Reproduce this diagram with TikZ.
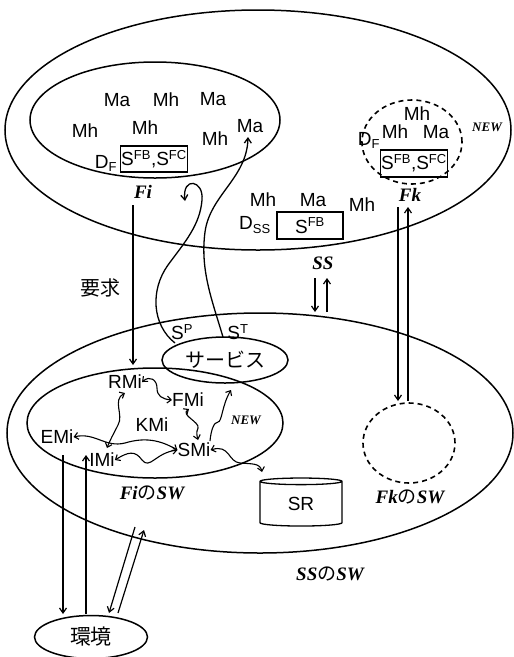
\documentclass[tikz,border=0pt]{standalone}
\usepackage{fontspec}
\setmainfont{Liberation Sans}
\newfontfamily\lserif{Liberation Serif}
\newfontfamily\jp{Noto Sans CJK JP}
\usetikzlibrary{arrows.meta,shapes.geometric}
\tikzset{
  x=1pt,y=-1pt,
  oval/.style={draw,ellipse,line width=1.5pt,inner sep=0pt},
  dashoval/.style={draw,ellipse,line width=1.6pt,dash pattern=on 5pt off 4pt,inner sep=0pt},
  lbl/.style={font=\fontsize{19}{19}\selectfont,inner sep=0pt},
  bi/.style={font=\lserif\bfseries\itshape\fontsize{19}{19}\selectfont,inner sep=0pt},
  newlbl/.style={font=\lserif\bfseries\itshape\fontsize{13}{13}\selectfont,inner sep=0pt},
  jplbl/.style={font=\jp\fontsize{20}{20}\selectfont,inner sep=0pt},
  sbox/.style={draw,line width=1.3pt,inner sep=0pt,font=\fontsize{19}{19}\selectfont},
  arr/.style={line width=1.2pt,-{Straight Barb[length=5pt,width=7pt]}},
  wavy/.style={line width=1.1pt,{Straight Barb[length=4pt,width=7pt]}-{Straight Barb[length=4pt,width=7pt]}},
  wavyone/.style={line width=1.1pt,-{Straight Barb[length=4pt,width=7pt]}},
}
\newcommand{\Sup}[1]{S\textsuperscript{\fontsize{13}{13}\selectfont #1}}
\newcommand{\Dsub}[1]{D\textsubscript{\fontsize{13}{13}\selectfont #1}}
\begin{document}
\begin{tikzpicture}
\useasboundingbox (0,0) rectangle (514,657);
% big ellipses
\node[oval,minimum width=506,minimum height=240] (SSe) at (258,130) {};
\node[oval,minimum width=506,minimum height=240] (SSW) at (260,433) {};
% Fi ellipse
\node[oval,minimum width=250,minimum height=116] (Fie) at (155,120) {};
\node[lbl] (ma1) at (117,100) {Ma};
\node[lbl] (mh1) at (166,100) {Mh};
\node[lbl] (ma2) at (213,99) {Ma};
\node[lbl] (mh2) at (85,131) {Mh};
\node[lbl] (mh3) at (145,128) {Mh};
\node[lbl] (mh4) at (215,139) {Mh};
\node[lbl] (ma3) at (250,126) {Ma};
\node[lbl] (df1) at (106,163) {\Dsub{F}};
\node[sbox,minimum width=67,minimum height=26] (sb1) at (154,159) {\Sup{FB},\Sup{FC}};
\node[bi] (Fi) at (143,192) {Fi};
% SS contents
\node[lbl] (mh5) at (263,200) {Mh};
\node[lbl] (ma4) at (313,200) {Ma};
\node[lbl] (mh6) at (362,205) {Mh};
\node[lbl] (dss) at (255,225) {\Dsub{SS}};
\node[sbox,minimum width=66,minimum height=27] (sb2) at (310,225.5) {\Sup{FB}};
\node[bi] (SS) at (323,263) {SS};
% Fk
\node[dashoval,minimum width=100,minimum height=84] (Fke) at (412,142) {};
\node[lbl] (mh7) at (417,114) {Mh};
\node[lbl] (mh8) at (395,132) {Mh};
\node[lbl] (ma5) at (436,132) {Ma};
\node[lbl] (df2) at (369,140) {\Dsub{F}};
\node[sbox,minimum width=67,minimum height=27] (sb3) at (414,163.5) {\Sup{FB},\Sup{FC}};
\node[newlbl] (new1) at (487,127) {NEW};
\node[bi] (Fk) at (410,195) {Fk};
% service
\node[oval,minimum width=126,minimum height=46,font=\jp\fontsize{20}{20}\selectfont] (serv) at (225,360) {サービス};
\node[lbl] (sp) at (182,332) {\Sup{P}};
\node[lbl] (st) at (238,332) {\Sup{T}};
% Fi SW
\node[oval,minimum width=256,minimum height=110] (FiSW) at (155,423) {};
\node[lbl] (RMi) at (125,382) {RMi};
\node[lbl] (FMi) at (188,400) {FMi};
\node[lbl] (KMi) at (152,425) {KMi};
\node[lbl] (EMi) at (57,437) {EMi};
\node[lbl] (IMi) at (102,460) {IMi};
\node[lbl] (SMi) at (194,450) {SMi};
\node[newlbl] (new2) at (246,420) {NEW};
\node[bi] (FiSWl) at (152,493) {Fi{\jp\mdseries\upshape の}SW};
% SR cylinder
\node[cylinder,shape border rotate=90,draw,line width=1.3pt,minimum width=82,minimum height=48,aspect=0.25,lbl] (SR) at (301,504) {SR};
% Fk SW
\node[dashoval,minimum width=92,minimum height=80] (FkSW) at (409,443) {};
\node[bi] (FkSWl) at (410,497) {Fk{\jp\mdseries\upshape の}SW};
\node[bi] (SSWl) at (330,574) {SS{\jp\mdseries\upshape の}SW};
% environment
\node[oval,minimum width=113,minimum height=43,font=\jp\fontsize{21}{21}\selectfont] (env) at (91,637) {環境};
\node[jplbl] (req) at (100,288) {要求};
% coordinates
\coordinate (a1) at (133,205); \coordinate (a2) at (133,365);
\coordinate (k1) at (398,207); \coordinate (k2) at (398,401);
\coordinate (k3) at (408,401); \coordinate (k4) at (408,207);
\coordinate (s1) at (315,278); \coordinate (s2) at (315,312);
\coordinate (s3) at (327,312); \coordinate (s4) at (327,278);
\coordinate (e1) at (63,455); \coordinate (e2) at (63,614);
\coordinate (i1) at (86,614); \coordinate (i2) at (86,455);
\coordinate (d1) at (135,527); \coordinate (d2) at (109,613);
\coordinate (d3) at (118,613); \coordinate (d4) at (144,530);
% straight arrows
\draw[arr] (a1) -- (a2);
\draw[arr] (k1) -- (k2);
\draw[arr] (k3) -- (k4);
\draw[arr] (s1) -- (s2);
\draw[arr] (s3) -- (s4);
\draw[arr] (e1) -- (e2);
\draw[arr] (i1) -- (i2);
\draw[arr] (d1) -- (d2);
\draw[arr] (d3) -- (d4);
% S^P and S^T curves
\coordinate (p0) at (175,343); \coordinate (p1) at (168,265); \coordinate (p2) at (202,200); \coordinate (p3) at (185,201);
\draw[arr,line width=1.3pt] (p0) .. controls (152,325) and (150,290) .. (p1) .. controls (185,242) and (200,225) .. (p2) .. controls (204,180) and (182,176) .. (p3);
\coordinate (t0) at (223,337); \coordinate (t1) at (205,232); \coordinate (t2) at (248,137);
\draw[arr,line width=1.3pt] (t0) .. controls (212,300) and (200,270) .. (t1) .. controls (210,195) and (247,178) .. (t2);
% wavy arrows
\draw[wavy] (RMi.east) .. controls (150,375) and (157,380) .. (157,388) .. controls (157,396) and (162,399) .. (FMi.west);
\draw[wavy] (125,393) .. controls (112,400) and (124,415) .. (118,425) .. controls (113,435) and (110,440) .. (107,448);
\draw[wavy] (EMi.east) .. controls (95,432) and (105,448) .. (125,443) .. controls (145,437) and (160,440) .. (SMi.west);
\draw[wavy] (IMi.east) .. controls (128,452) and (135,450) .. (142,460) .. controls (150,470) and (155,453) .. (SMi.west);
\draw[wavy] (189,409) .. controls (180,415) and (200,422) .. (198,428) .. controls (196,432) and (197,436) .. (198,440);
\draw[wavyone] (210,441) .. controls (211,430) and (214,422) .. (218,422) .. controls (222,422) and (222,405) .. (231,390);
\draw[wavy] (SMi.east) .. controls (230,444) and (228,462) .. (240,463) .. controls (252,464) and (260,463) .. (262,472);
\end{tikzpicture}
\end{document}
